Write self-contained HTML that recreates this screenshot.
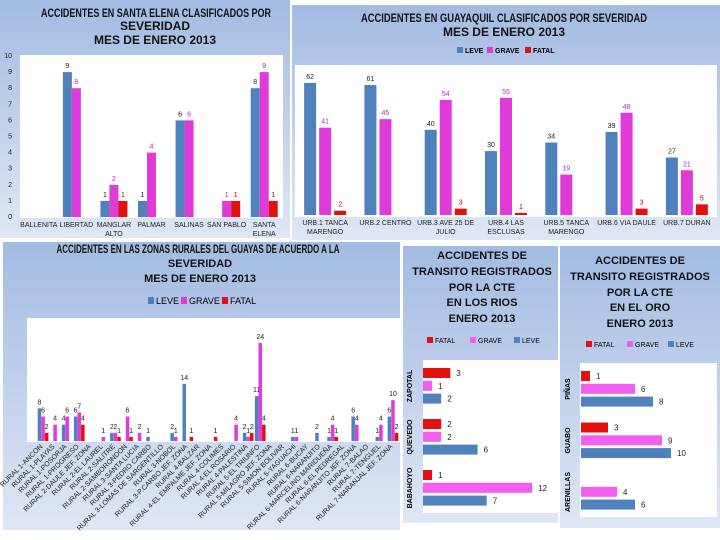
<!DOCTYPE html>
<html><head><meta charset="utf-8"><style>
html,body{margin:0;padding:0;background:#fff;}
svg{display:block;font-family:"Liberation Sans",sans-serif;}
.t{font-weight:bold;font-size:11px;fill:#111;text-anchor:middle;}
.tb{font-size:12px;}
.l{font-size:7px;fill:#222;}
.v{font-size:7px;}
</style></head><body>
<svg id="s" width="720" height="540" viewBox="0 0 720 540">
<defs><linearGradient id="g" x1="0" y1="0" x2="0" y2="1"><stop offset="0" stop-color="#a3bbe2"/><stop offset="1" stop-color="#dfe7f5"/></linearGradient></defs>
<g>
<rect x="0" y="0" width="290" height="238" fill="url(#g)"/>
<rect x="20" y="55" width="263" height="163" fill="#fff"/>
<text class="t tb" x="156" y="17" textLength="230" lengthAdjust="spacingAndGlyphs">ACCIDENTES EN SANTA ELENA CLASIFICADOS POR</text>
<text class="t tb" x="155" y="30">SEVERIDAD</text>
<text class="t tb" x="155" y="44">MES DE ENERO 2013</text>
<g id="p1"></g></g>
<g>
<rect x="292" y="5" width="428" height="235" fill="url(#g)"/>
<rect x="295" y="65" width="422" height="152" fill="#fff"/>
<text class="t tb" x="504" y="22" textLength="286" lengthAdjust="spacingAndGlyphs">ACCIDENTES EN GUAYAQUIL CLASIFICADOS POR SEVERIDAD</text>
<text class="t tb" x="504" y="36">MES DE ENERO 2013</text>
<g font-size="7" font-weight="bold">
<rect x="457" y="47" width="6" height="6" fill="#4f81bd"/><text x="465" y="53">LEVE</text>
<rect x="487" y="47" width="6" height="6" fill="#e03ad9"/><text x="495" y="53">GRAVE</text>
<rect x="525" y="47" width="6" height="6" fill="#e31010"/><text x="533" y="53">FATAL</text></g>
<g id="p2"></g></g>
<g>
<rect x="3" y="242" width="397" height="288" fill="url(#g)"/>
<rect x="27" y="318" width="373" height="124" fill="#fff"/>
<text class="t tb" x="198" y="253" textLength="283" lengthAdjust="spacingAndGlyphs">ACCIDENTES EN LAS ZONAS RURALES DEL GUAYAS DE ACUERDO A LA</text>
<text class="t" x="200" y="267">SEVERIDAD</text>
<text class="t" x="200" y="282">MES DE ENERO 2013</text>
<g font-size="9">
<rect x="148" y="297" width="6" height="7" fill="#4f81bd"/><text x="156" y="304">LEVE</text>
<rect x="181" y="297" width="6" height="7" fill="#e03ad9"/><text x="189" y="304">GRAVE</text>
<rect x="222" y="297" width="6" height="7" fill="#e31010"/><text x="230" y="304">FATAL</text></g>
<g id="p3"></g></g>
<g>
<rect x="403" y="246" width="155" height="277" fill="url(#g)"/>
<rect x="423" y="360" width="135" height="153" fill="#fff"/>
<text class="t" x="482" y="259">ACCIDENTES DE</text>
<text class="t" x="482" y="275">TRANSITO REGISTRADOS</text>
<text class="t" x="482" y="291">POR LA CTE</text>
<text class="t" x="482" y="306">EN LOS RIOS</text>
<text class="t" x="482" y="322">ENERO 2013</text>
<g font-size="7">
<rect x="427" y="337" width="6" height="6" fill="#e31010"/><text x="435" y="343">FATAL</text>
<rect x="470" y="337" width="6" height="6" fill="#f25ef0"/><text x="478" y="343">GRAVE</text>
<rect x="514" y="337" width="6" height="6" fill="#4f81bd"/><text x="522" y="343">LEVE</text></g>
<g id="p4"></g></g>
<g>
<rect x="560" y="246" width="160" height="282" fill="url(#g)"/>
<rect x="580" y="363" width="137" height="154" fill="#fff"/>
<text class="t" x="640" y="264">ACCIDENTES DE</text>
<text class="t" x="640" y="280">TRANSITO REGISTRADOS</text>
<text class="t" x="640" y="296">POR LA CTE</text>
<text class="t" x="640" y="311">EN EL ORO</text>
<text class="t" x="640" y="327">ENERO 2013</text>
<g font-size="7">
<rect x="586" y="341" width="6" height="6" fill="#e31010"/><text x="594" y="347">FATAL</text>
<rect x="627" y="341" width="6" height="6" fill="#f25ef0"/><text x="635" y="347">GRAVE</text>
<rect x="668" y="341" width="6" height="6" fill="#4f81bd"/><text x="676" y="347">LEVE</text></g>
<g id="p5"></g></g>
</svg>
<script>
const seCats=["BALLENITA","LIBERTAD","MANGLAR|ALTO","PALMAR","SALINAS","SAN PABLO","SANTA|ELENA"];
const seLeve=[0,9,1,1,6,0,8];
const seGrave=[0,8,2,4,6,1,9];
const seFatal=[0,0,1,0,0,1,1];
const seTicks=[0,1,2,3,4,5,6,7,8,9,10];
const gyCats=["URB.1 TANCA|MARENGO","URB.2 CENTRO","URB.3 AVE 25 DE|JULIO","URB.4 LAS|ESCLUSAS","URB.5 TANCA|MARENGO","URB.6 VIA DAULE","URB.7 DURAN"];
const gyLeve=[62,61,40,30,34,39,27];
const gyGrave=[41,45,54,55,19,48,21];
const gyFatal=[2,0,3,1,0,3,5];
const ruCats=["RURAL 1-ANCON","RURAL 1-PLAYAS","RURAL 1-POSORJA","RURAL 1-PROGRESO","RURAL 2-DAULE JEF. ZONA","RURAL 2-EL LAUREL","RURAL 2-SALITRE","RURAL 2-SAMBORONDON","RURAL 3-SANTA LUCIA","RURAL 3-PEDRO CARBO","RURAL 3-LOMAS DE SARGENTILLO","RURAL 3-NOBOL","RURAL 3-P.CARBO JEF. ZONA","RURAL 4-BALZAR","RURAL 4-EL EMPALME JEF. ZONA","RURAL 4-COLIMES","RURAL 4-EL ROSARIO","RURAL 4-PALESTINA","RURAL 5-EL TRIUNFO","RURAL 5-MILAGRO JEF. ZONA","RURAL 5-SIMON BOLIVAR","RURAL 5-YAGUACHI","RURAL 6-BUCAY","RURAL 6-NARANJITO","RURAL 6-MARCELINO MARIDUEÑA","RURAL 6-EL PEDREGAL","RURAL 6-NARANJITO JEF. ZONA","RURAL 7-BALAO","RURAL 7-TENGUEL","RURAL 7-NARANJAL JEF. ZONA"];
const ruLeve=[8,0,4,6,0,0,2,0,0,1,0,2,14,0,0,0,0,2,11,0,0,1,0,2,1,0,6,0,1,6];
const ruGrave=[6,4,6,7,0,1,2,6,2,0,0,1,0,0,0,0,4,1,24,0,0,1,0,0,4,0,4,0,4,10];
const ruFatal=[2,0,0,4,0,0,1,1,0,0,0,0,1,0,1,0,0,2,4,0,0,0,0,0,1,0,0,0,0,2];
const lrCats=["ZAPOTAL","QUEVEDO","BABAHOYO"];
const lrFatal=[3,2,1];
const lrGrave=[1,2,12];
const lrLeve=[2,6,7];
const eoCats=["PIÑAS","GUABO","ARENILLAS"];
const eoFatal=[1,3,0];
const eoGrave=[6,9,4];
const eoLeve=[8,10,6];

const NS="http://www.w3.org/2000/svg";
function mk(p,tag,a,txt){const e=document.createElementNS(NS,tag);for(const k in a)e.setAttribute(k,a[k]);if(txt!==undefined)e.textContent=txt;p.appendChild(e);return e;}
const C={leve:"#4f81bd",grave:"#e03ad9",fatal:"#e31010",pink:"#f25ef0"};

function vbars(p,o){
  const n=o.cats.length,bw=(o.x1-o.x0)/n;
  const y=v=>o.base-v*o.unit;
  if(o.ticks){o.ticks.forEach(t=>{const e=mk(p,"text",{x:o.x0-8,y:y(t)+2,"class":"l","text-anchor":"end"},t);
    
    });}
  o.series.forEach((s,si)=>{s.vals.forEach((v,i)=>{
    if(!v)return;
    const cx=o.x0+bw*(i+0.5)+(si-1)*o.step;
    const r=mk(p,"rect",{x:cx-o.w/2,y:y(v),width:o.w,height:v*o.unit,fill:s.c});
    
    
    const t=mk(p,"text",{x:cx,y:y(v)-4,"class":"v","text-anchor":"middle",fill:s.tc||"#222","font-size":o.fs||7},v);
    
    
  });});
  o.cats.forEach((c,i)=>{const cx=o.x0+bw*(i+0.5);
    if(o.rot){const t=mk(p,"text",{x:cx,y:o.base+6,"class":"l","text-anchor":"end","font-size":6,transform:`rotate(-45 ${cx} ${o.base+6})`},c);
      
      }
    else c.split("|").forEach((ln,j)=>{const t=mk(p,"text",{x:cx,y:o.base+10+j*9,"class":"l","text-anchor":"middle"},ln);
      
      });
  });
}
vbars(document.getElementById("p1"),{cats:seCats,x0:20,x1:283,base:217,unit:16.1,w:9,step:9,ticks:seTicks,
  series:[{vals:seLeve,c:C.leve,n:"leve"},{vals:seGrave,c:C.grave,n:"grave",tc:"#c020c0"},{vals:seFatal,c:C.fatal,n:"fatal",tc:"#b00"}]});
vbars(document.getElementById("p2"),{cats:gyCats,x0:295,x1:717,base:215,unit:2.13,w:12,step:15,
  series:[{vals:gyLeve,c:C.leve,n:"leve"},{vals:gyGrave,c:C.grave,n:"grave",tc:"#c020c0"},{vals:gyFatal,c:C.fatal,n:"fatal",tc:"#b00"}]});
vbars(document.getElementById("p3"),{cats:ruCats,x0:37,x1:399,base:441,unit:4.08,w:3.5,step:3.6,rot:true,fs:6,
  series:[{vals:ruLeve,c:C.leve,n:"leve"},{vals:ruGrave,c:C.grave,n:"grave"},{vals:ruFatal,c:C.fatal,n:"fatal"}]});

function hbars(p,o){
  const x=v=>o.x0+v*o.unit;
  o.cats.forEach((c,i)=>{
    [[o.f,C.fatal,"fatal"],[o.g,C.pink,"grave"],[o.l,C.leve,"leve"]].forEach((s,si)=>{
      const v=s[0][i];const yy=o.y0+i*o.gap+si*12.8;
      if(!v)return;
      const r=mk(p,"rect",{x:o.x0,y:yy-5,width:v*o.unit,height:10,fill:s[1]});
      
      
      const t=mk(p,"text",{x:x(v)+6,y:yy+3,"font-size":8,fill:"#222"},v);
      
      
    });
    const cy=o.y0+i*o.gap+13;
    const t=mk(p,"text",{x:o.lx,y:cy,"font-size":7,"font-weight":"bold","text-anchor":"middle",transform:`rotate(-90 ${o.lx} ${cy})`},c);
    
    
  });
}
hbars(document.getElementById("p4"),{cats:lrCats,f:lrFatal,g:lrGrave,l:lrLeve,x0:423,unit:9.1,y0:373,gap:51,lx:412});
hbars(document.getElementById("p5"),{cats:eoCats,f:eoFatal,g:eoGrave,l:eoLeve,x0:581,unit:9,y0:376,gap:51.5,lx:570});
</script>
</body></html>
